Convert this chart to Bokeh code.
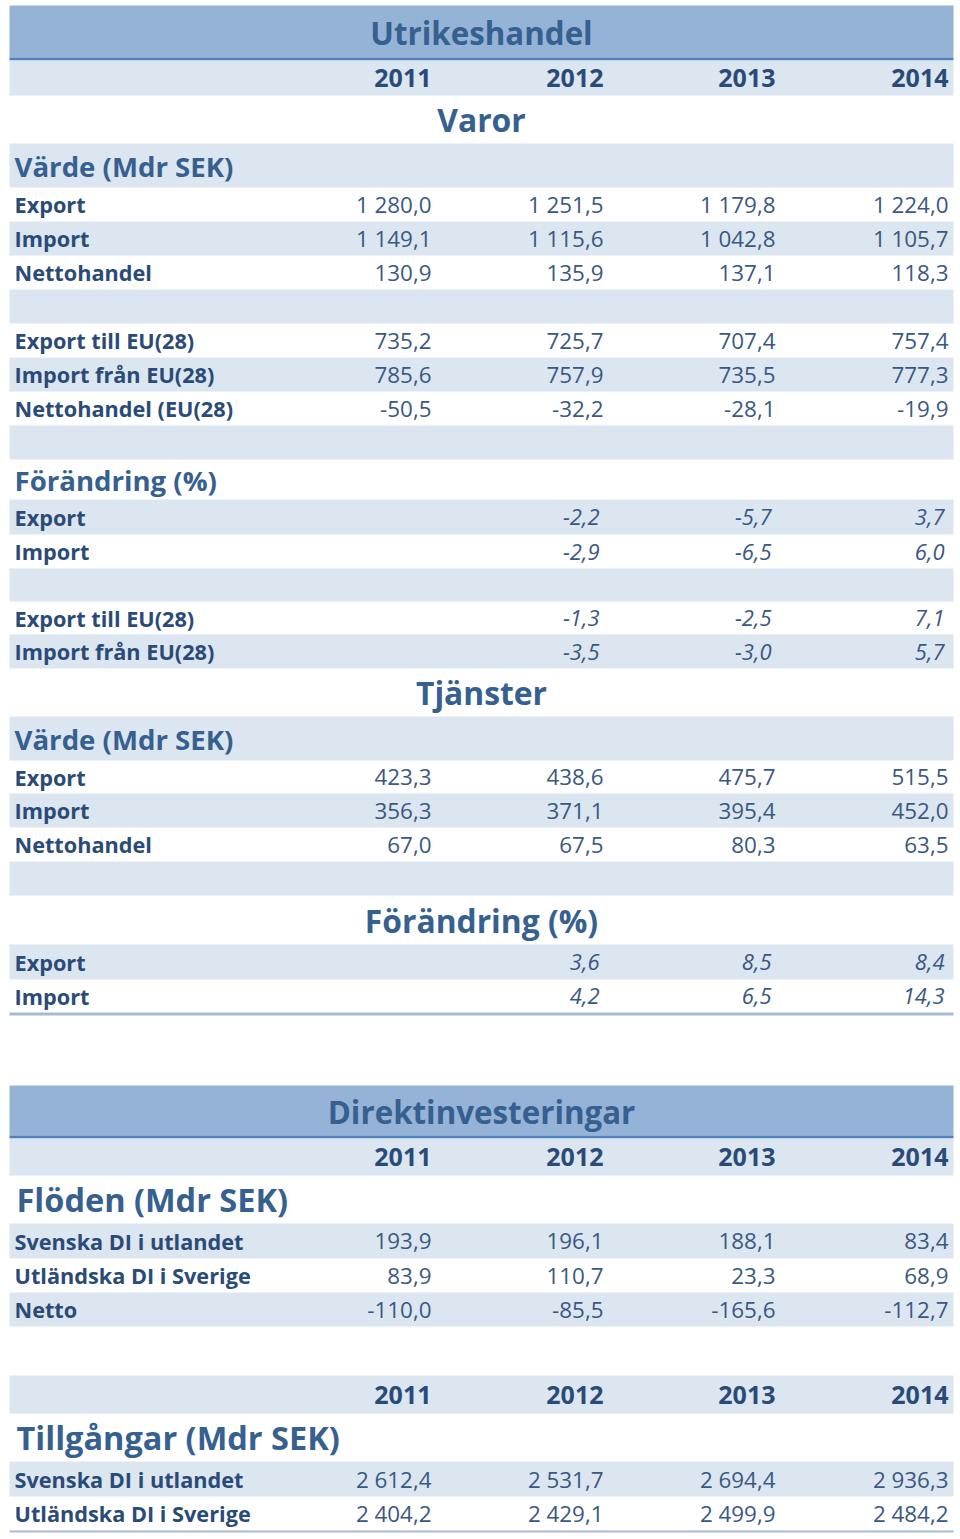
from bokeh.plotting import figure
from bokeh.models import ColumnDataSource, Range1d
from bokeh.core.properties import value
from bokeh.embed import file_html
from bokeh.resources import INLINE

# ---------------- data ----------------
years = ["2011", "2012", "2013", "2014"]
chg_years = ["2012", "2013", "2014"]

# Utrikeshandel - Varor, värde (Mdr SEK)
varor_export = [1280.0, 1251.5, 1179.8, 1224.0]
varor_import = [1149.1, 1115.6, 1042.8, 1105.7]
varor_netto = [130.9, 135.9, 137.1, 118.3]
varor_export_eu = [735.2, 725.7, 707.4, 757.4]
varor_import_eu = [785.6, 757.9, 735.5, 777.3]
varor_netto_eu = [-50.5, -32.2, -28.1, -19.9]
# Varor, förändring (%)
varor_export_chg = [-2.2, -5.7, 3.7]
varor_import_chg = [-2.9, -6.5, 6.0]
varor_export_eu_chg = [-1.3, -2.5, 7.1]
varor_import_eu_chg = [-3.5, -3.0, 5.7]
# Tjänster
tj_export = [423.3, 438.6, 475.7, 515.5]
tj_import = [356.3, 371.1, 395.4, 452.0]
tj_netto = [67.0, 67.5, 80.3, 63.5]
tj_export_chg = [3.6, 8.5, 8.4]
tj_import_chg = [4.2, 6.5, 14.3]
# Direktinvesteringar
di_flow_sv = [193.9, 196.1, 188.1, 83.4]
di_flow_ut = [83.9, 110.7, 23.3, 68.9]
di_flow_netto = [-110.0, -85.5, -165.6, -112.7]
di_stock_sv = [2612.4, 2531.7, 2694.4, 2936.3]
di_stock_ut = [2404.2, 2429.1, 2499.9, 2484.2]

# ---------------- style ----------------
FONT = "Open Sans"
DARK_BAND = "#95b3d7"
LIGHT_BAND = "#dce6f1"
RULE = "#4f81bd"
BOTTOM_RULE = "#a7b9d1"
TITLE_C = "#36608f"
LABEL_C = "#2a4b78"
NUM_C = "#3a5882"

X0, X1 = 9, 953
LABEL_X = 14
COL_R = [431, 603, 775, 948]
PCT_R = [599, 771, 944]


def fmt(v):
    return f"{v:,.1f}".replace(",", " ").replace(".", ",")


# row spec: (kind, height, band, text, values)
def block1():
    return [
        ("title", 52, DARK_BAND, "Utrikeshandel", None),
        ("rule", 3, RULE, "", None),
        ("years", 35, LIGHT_BAND, "", years),
        ("center", 48, None, "Varor", None),
        ("section", 44, LIGHT_BAND, "Värde (Mdr SEK)", None),
        ("data", 34, None, "Export", varor_export),
        ("data", 34, LIGHT_BAND, "Import", varor_import),
        ("data", 34, None, "Nettohandel", varor_netto),
        ("blank", 34, LIGHT_BAND, "", None),
        ("data", 34, None, "Export till EU(28)", varor_export_eu),
        ("data", 34, LIGHT_BAND, "Import från EU(28)", varor_import_eu),
        ("data", 34, None, "Nettohandel (EU(28)", varor_netto_eu),
        ("blank", 34, LIGHT_BAND, "", None),
        ("section", 40, None, "Förändring (%)", None),
        ("pct", 35, LIGHT_BAND, "Export", varor_export_chg),
        ("pct", 34, None, "Import", varor_import_chg),
        ("blank", 33, LIGHT_BAND, "", None),
        ("pct", 33, None, "Export till EU(28)", varor_export_eu_chg),
        ("pct", 34, LIGHT_BAND, "Import från EU(28)", varor_import_eu_chg),
        ("center", 48, None, "Tjänster", None),
        ("section", 44, LIGHT_BAND, "Värde (Mdr SEK)", None),
        ("data", 33, None, "Export", tj_export),
        ("data", 34, LIGHT_BAND, "Import", tj_import),
        ("data", 34, None, "Nettohandel", tj_netto),
        ("blank", 34, LIGHT_BAND, "", None),
        ("center", 49, None, "Förändring (%)", None),
        ("pct", 35, LIGHT_BAND, "Export", tj_export_chg),
        ("pct", 33, None, "Import", tj_import_chg),
        ("rule", 3, BOTTOM_RULE, "", None),
    ]


def block2():
    return [
        ("title", 50, DARK_BAND, "Direktinvesteringar", None),
        ("rule", 3, RULE, "", None),
        ("years", 37, LIGHT_BAND, "", years),
        ("section2", 48, None, "Flöden (Mdr SEK)", None),
        ("data", 35, LIGHT_BAND, "Svenska DI i utlandet", di_flow_sv),
        ("data", 34, None, "Utländska DI i Sverige", di_flow_ut),
        ("data", 34, LIGHT_BAND, "Netto", di_flow_netto),
        ("blank", 49, None, "", None),
        ("years", 38, LIGHT_BAND, "", years),
        ("section2", 48, None, "Tillgångar (Mdr SEK)", None),
        ("data", 35, LIGHT_BAND, "Svenska DI i utlandet", di_stock_sv),
        ("data", 34, None, "Utländska DI i Sverige", di_stock_ut),
        ("rule", 2, BOTTOM_RULE, "", None),
    ]


bands = dict(left=[], right=[], top=[], bottom=[], color=[])
styles = ["title", "center", "section", "section2", "label", "years", "num", "pct"]
texts = {s: dict(x=[], y=[], t=[]) for s in styles}


def put(style, x, y, t):
    texts[style]["x"].append(x)
    texts[style]["y"].append(y)
    texts[style]["t"].append(t)


def layout(rows, y):
    for kind, h, band, text, vals in rows:
        if band is not None:
            bands["left"].append(X0)
            bands["right"].append(X1)
            bands["top"].append(y)
            bands["bottom"].append(y + h)
            bands["color"].append(band)
        cy = y + h / 2
        if kind == "title":
            put("title", 481, cy + 1, text)
        elif kind == "center":
            put("center", 481, cy, text)
        elif kind == "section":
            put("section", LABEL_X, cy, text)
        elif kind == "section2":
            put("section2", LABEL_X + 2, cy, text)
        elif kind == "years":
            for xr, v in zip(COL_R, vals):
                put("years", xr, cy, v)
        elif kind == "data":
            put("label", LABEL_X, cy, text)
            for xr, v in zip(COL_R, vals):
                put("num", xr, cy, fmt(v))
        elif kind == "pct":
            put("label", LABEL_X, cy, text)
            for xr, v in zip(PCT_R, vals):
                put("pct", xr, cy, fmt(v))
        y += h
    return y


layout(block1(), 5)
layout(block2(), 1085)

W, H = 960, 1538
p = figure(width=W, height=H, output_backend="svg", toolbar_location=None,
           x_range=Range1d(0, W), y_range=Range1d(H, 0),
           min_border=0, background_fill_color="white", border_fill_color="white")
p.axis.visible = False
p.grid.visible = False
p.outline_line_color = None

p.quad(left="left", right="right", top="top", bottom="bottom", color="color",
       source=ColumnDataSource(bands), line_color=None)

spec = {
    "title":    dict(size="31.3px", style="bold", align="center", color=TITLE_C),
    "center":   dict(size="31.8px", style="bold", align="center", color=TITLE_C),
    "section":  dict(size="27.6px", style="bold", align="left", color=TITLE_C),
    "section2": dict(size="32.5px", style="bold", align="left", color=TITLE_C),
    "label":    dict(size="21.7px", style="bold", align="left", color=LABEL_C),
    "years":    dict(size="25px", style="bold", align="right", color=LABEL_C),
    "num":      dict(size="22.4px", style="normal", align="right", color=NUM_C),
    "pct":      dict(size="22px", style="italic", align="right", color=NUM_C),
}
for s in styles:
    d = texts[s]
    sp = spec[s]
    p.text(x="x", y="y", text="t", source=ColumnDataSource(d),
           text_font=value(FONT), text_font_size=sp["size"],
           text_font_style=sp["style"], text_align=sp["align"],
           text_baseline="middle", text_color=sp["color"])

open("out.html", "w").write(file_html(p, INLINE))
